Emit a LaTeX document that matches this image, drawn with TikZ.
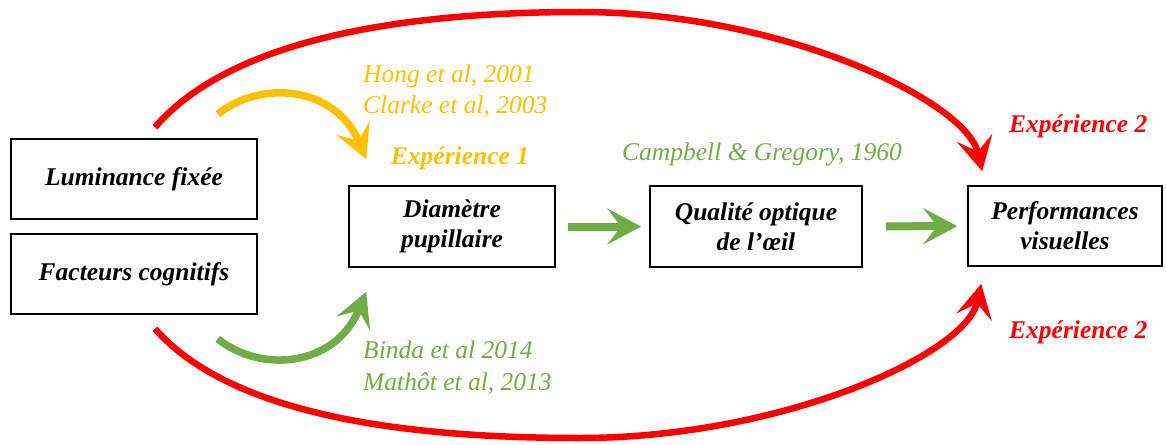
\documentclass[tikz,border=0pt]{standalone}
\usepackage{fontspec}
\setmainfont{Liberation Serif}
\usetikzlibrary{arrows.meta}

\definecolor{jaune}{HTML}{FFC000}
\definecolor{vert}{HTML}{70AD47}
\definecolor{rouge}{HTML}{FF0000}

\begin{document}
\begin{tikzpicture}[x=1pt, y=-1pt, >={Stealth[length=34pt,width=36pt,inset=14pt]},
  boite/.style={draw, line width=1.6pt, align=center, inner sep=0pt,
    font=\fontsize{25.5}{30}\selectfont\bfseries\itshape},
  ref/.style={inner sep=0pt, anchor=base west,
    font=\fontsize{25.5}{30}\selectfont\itshape},
  titre/.style={inner sep=0pt, font=\fontsize{25.5}{30}\selectfont\bfseries\itshape}]

\useasboundingbox (0,0) rectangle (1166,444);

% Définition des boîtes

\node [boite, minimum width=246pt, minimum height=80pt] (lum) at (134,179) {Luminance fixée};
\node [boite, minimum width=246pt, minimum height=80pt] (cog) at (134,274) {Facteurs cognitifs};
\node [boite, minimum width=206pt, minimum height=81pt] (diam) at (452,226.5) {Diamètre\\pupillaire};
\node [boite, minimum width=212pt, minimum height=81pt] (qual) at (756,226.5) {Qualité optique\\de l’œil};
\node [boite, minimum width=194pt, minimum height=80pt] (perf) at (1065,226) {Performances\\visuelles};

% Définition des flèches droites.

\draw [->, vert, line width=8pt, shorten <=12pt, shorten >=8pt] (diam) -- (qual);
\draw [->, vert, line width=8pt, shorten <=23pt, shorten >=10pt] (qual) -- (perf);

% Définition des flèches courbes.

\draw [->, jaune, line width=7.5pt] ([xshift=-40pt,yshift=24pt]lum.north east)
  .. controls (260,80) and (335,85) .. ([xshift=18pt,yshift=26pt]diam.north west);
\draw [->, vert, line width=7.5pt] ([xshift=-40pt,yshift=-24pt]cog.south east)
  .. controls (260,373) and (335,368) .. ([xshift=18pt,yshift=-24pt]diam.south west);

\draw [->, rouge, line width=6.5pt] ([xshift=21pt,yshift=11pt]lum.north)
  .. controls (230,40) and (400,12) .. (580,12)
  .. controls (780,12) and (966,100) .. ([xshift=15pt,yshift=14pt]perf.north west);
\draw [->, rouge, line width=6.5pt] ([xshift=21pt,yshift=-14pt]cog.south)
  .. controls (230,414) and (400,438) .. (580,438)
  .. controls (780,438) and (966,355) .. ([xshift=14pt,yshift=-17pt]perf.south west);

% Définition des références.

\node [ref, jaune] (hong) at (363,82) {Hong et al, 2001};
\node [ref, jaune] (clarke) at (363,113) {Clarke et al, 2003};
\node [ref, vert] (binda) at (363,358) {Binda et al 2014};
\node [ref, vert] (mathot) at (363,390) {Mathôt et al, 2013};
\node [ref, vert, anchor=base] (campbell) at (762,160) {Campbell \& Gregory, 1960};

\node [titre, jaune, anchor=base] (exp1) at (460,164) {Expérience 1};
\node [titre, rouge, anchor=base west] (exp2a) at (1009,132) {Expérience 2};
\node [titre, rouge, anchor=base west] (exp2b) at (1009,338) {Expérience 2};

\end{tikzpicture}
\end{document}
